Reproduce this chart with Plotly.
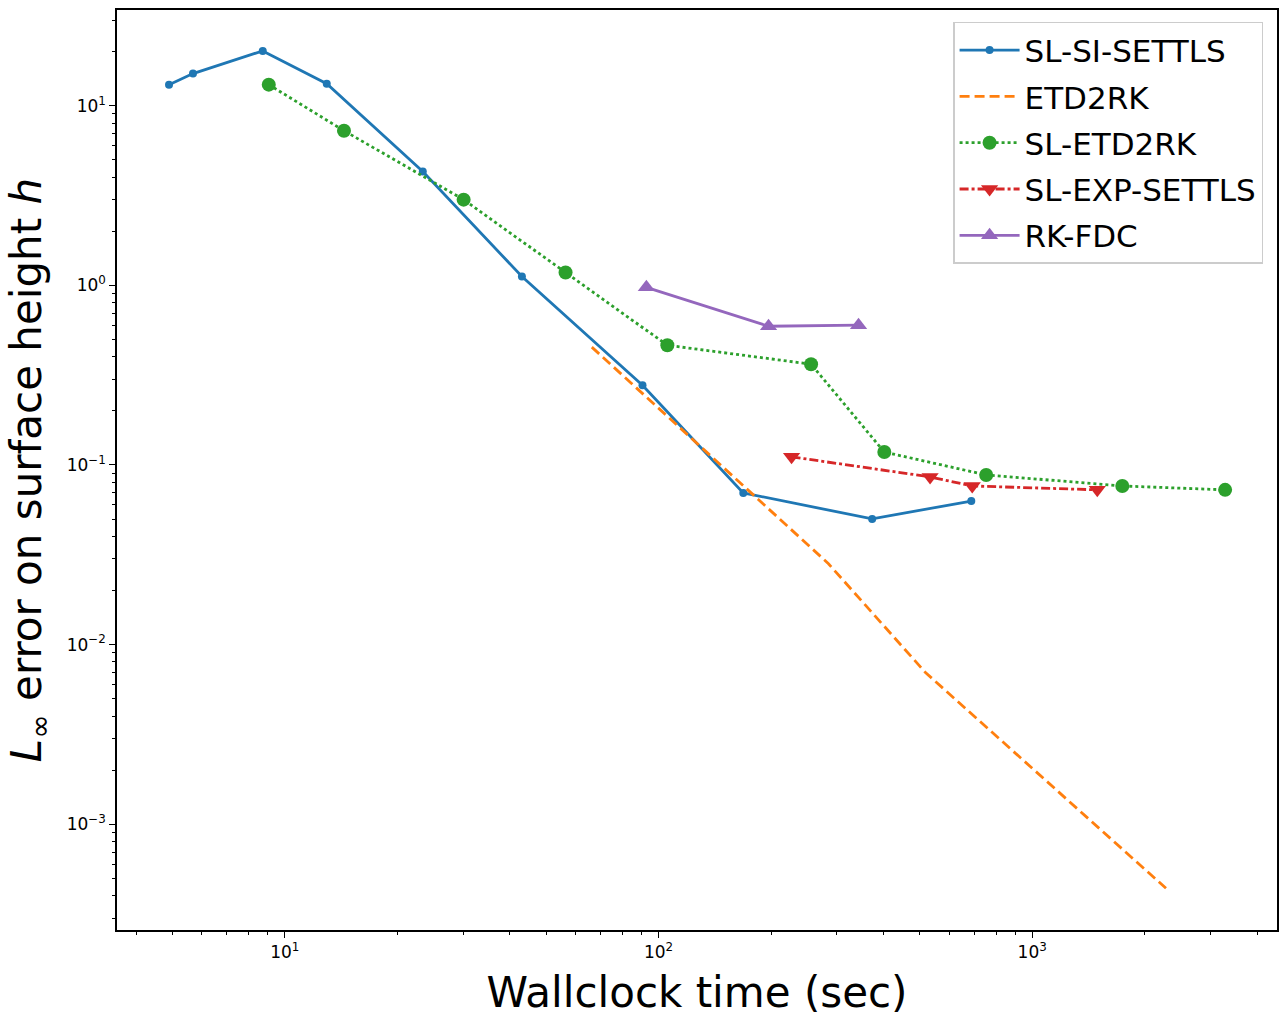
import plotly.graph_objects as go

# ---- data ----
sl_si_settls_t = [4.90, 5.68, 8.73, 12.95, 23.4, 43.1, 90.6, 168.6, 373, 687]
sl_si_settls_e = [13.1, 15.1, 20.2, 13.25, 4.30, 1.12, 0.278, 0.0699, 0.0501, 0.063]

etd2rk_t = [66.3, 285, 518, 2280]
etd2rk_e = [0.453, 0.0282, 0.00699, 0.00044]

sl_etd2rk_t = [9.06, 14.4, 30.1, 56.4, 105.6, 256, 402, 753, 1742, 3282]
sl_etd2rk_e = [13.1, 7.26, 3.0, 1.18, 0.464, 0.364, 0.118, 0.088, 0.0764, 0.0727]

sl_exp_settls_t = [227, 533, 691, 1493]
sl_exp_settls_e = [0.111, 0.0858, 0.0764, 0.0727]

rk_fdc_t = [92.8, 197, 343]
rk_fdc_e = [0.975, 0.592, 0.600]

x_major = [10, 100, 1000]
x_major_text = ["10<sup>1</sup>", "10<sup>2</sup>", "10<sup>3</sup>"]
y_major = [1e-3, 1e-2, 1e-1, 1, 10]
y_major_text = ["10<sup>\u22123</sup>", "10<sup>\u22122</sup>", "10<sup>\u22121</sup>",
                "10<sup>0</sup>", "10<sup>1</sup>"]

x_minor = [m * 10 ** d for d in range(0, 4) for m in range(2, 10)]
y_minor = [m * 10 ** d for d in range(-4, 2) for m in range(2, 10)]

FONT = "DejaVu Sans"

fig = go.Figure()
fig.add_trace(go.Scatter(x=sl_si_settls_t, y=sl_si_settls_e, name="SL-SI-SETTLS",
                         legendgroup="a", mode="lines+markers",
                         line=dict(color="#1f77b4", width=2.8),
                         marker=dict(symbol="circle", size=8, color="#1f77b4")))
fig.add_trace(go.Scatter(x=etd2rk_t, y=etd2rk_e, name="ETD2RK", legendgroup="b",
                         mode="lines",
                         line=dict(color="#ff7f0e", width=2.8, dash="10px,5px")))
fig.add_trace(go.Scatter(x=sl_etd2rk_t, y=sl_etd2rk_e, name="SL-ETD2RK",
                         legendgroup="c", mode="lines+markers",
                         line=dict(color="#2ca02c", width=2.8, dash="dot"),
                         marker=dict(symbol="circle", size=14, color="#2ca02c")))
fig.add_trace(go.Scatter(x=sl_exp_settls_t, y=sl_exp_settls_e, name="SL-EXP-SETTLS",
                         legendgroup="d", mode="lines+markers",
                         line=dict(color="#d62728", width=2.8, dash="dashdot"),
                         marker=dict(symbol="triangle-down", size=15, color="#d62728")))
fig.add_trace(go.Scatter(x=rk_fdc_t, y=rk_fdc_e, name="RK-FDC",
                         legendgroup="e", mode="lines+markers",
                         line=dict(color="#9467bd", width=2.8),
                         marker=dict(symbol="triangle-up", size=15, color="#9467bd")))

axis_common = dict(type="log", showgrid=False, zeroline=False, showline=True,
                   linecolor="black", linewidth=1.5, mirror=True,
                   ticks="outside", ticklen=6, tickwidth=1.2, tickcolor="black",
                   tickmode="array",
                   tickfont=dict(family=FONT, size=17, color="black"))

fig.update_xaxes(**axis_common, range=[0.551, 3.655], tickvals=x_major,
                 ticktext=x_major_text,
                 minor=dict(tickmode="array", tickvals=x_minor, ticks="outside",
                            ticklen=3.5, tickwidth=1, tickcolor="black", showgrid=False),
                 title=dict(text="Wallclock time (sec)",
                            font=dict(family=FONT, size=42, color="black"), standoff=16))
fig.update_yaxes(**axis_common, range=[-3.589, 1.533], tickvals=y_major,
                 ticktext=y_major_text,
                 minor=dict(tickmode="array", tickvals=y_minor, ticks="outside",
                            ticklen=3.5, tickwidth=1, tickcolor="black", showgrid=False),
                 title=dict(text="<i>L</i><sub>\u221e</sub> error on surface height <i>h</i>",
                            font=dict(family=FONT, size=42, color="black"), standoff=12))

fig.update_layout(
    width=1287, height=1018,
    margin=dict(l=117, r=9, t=8, b=88),
    paper_bgcolor="white", plot_bgcolor="white",
    font=dict(family=FONT, color="black"),
    legend=dict(x=0.988, y=0.987, xanchor="right", yanchor="top",
                bgcolor="white", bordercolor="#cccccc", borderwidth=1.5,
                font=dict(family=FONT, size=31, color="black"),
                itemwidth=60, tracegroupgap=3),
)

fig.write_html("out.html")
